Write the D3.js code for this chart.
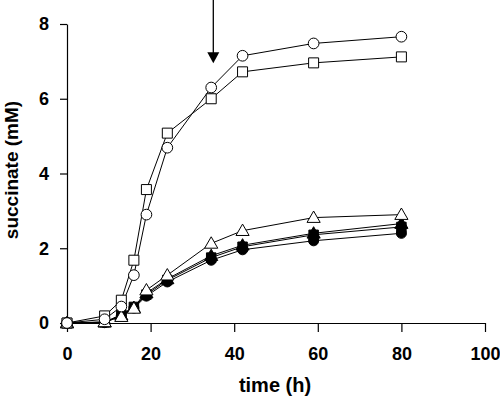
<!DOCTYPE html>
<html>
<head>
<meta charset="utf-8">
<script src="https://cdn.jsdelivr.net/npm/d3@7"></script>
<style>
  body { margin: 0; background: #fff; }
  text { font-family: Arial, "Liberation Sans", sans-serif; font-weight: bold; }
</style>
</head>
<body>
<script>
// sampling times (h)
const times = [0, 9, 13, 16, 19, 24, 34.5, 42, 59, 80];

// succinate (mM), one array per series
const openCircle   = [0, 0.10, 0.44, 1.28, 2.90, 4.69, 6.30, 7.15, 7.48, 7.66];
const openSquare   = [0, 0.19, 0.61, 1.68, 3.57, 5.08, 6.00, 6.72, 6.96, 7.12];
const openTriangle = [0, 0.03, 0.17, 0.39, 0.88, 1.28, 2.13, 2.47, 2.82, 2.90];
const filledTriangle = [0, 0.02, 0.21, 0.41, 0.80, 1.18, 1.80, 2.08, 2.40, 2.66];
const filledSquare   = [0, 0.02, 0.23, 0.43, 0.76, 1.15, 1.75, 2.04, 2.36, 2.57];
const filledCircle   = [0, 0.01, 0.20, 0.40, 0.72, 1.10, 1.68, 1.96, 2.20, 2.40];

const xTicks = [0, 20, 40, 60, 80, 100];
const yTicks = [0, 2, 4, 6, 8];

// arrow annotation (time, tip value)
const arrowTime = 35;
const arrowTip = 6.95;

const width = 500, height = 398;
const svg = d3.select("body").append("svg")
    .attr("width", width)
    .attr("height", height);

const x = d3.scaleLinear().domain([0, 100]).range([67, 485]);
const y = d3.scaleLinear().domain([0, 8]).range([323, 24]);

// axes
const xAxis = svg.append("g")
    .attr("transform", `translate(0,${y(0)})`)
    .call(d3.axisBottom(x).tickValues(xTicks).tickSize(9).tickSizeOuter(0).tickPadding(15));
const yAxis = svg.append("g")
    .attr("transform", `translate(${x(0)},0)`)
    .call(d3.axisLeft(y).tickValues(yTicks).tickSize(7).tickSizeOuter(0).tickPadding(11));

[xAxis, yAxis].forEach(a => {
    a.selectAll("path, line").attr("stroke", "#000").attr("stroke-width", 1.2);
    a.selectAll("text").attr("fill", "#000").style("font-size", "18px");
});

svg.append("text")
    .attr("x", 275)
    .attr("y", 392)
    .attr("text-anchor", "middle")
    .style("font-size", "20px")
    .text("time (h)");

svg.append("text")
    .attr("transform", "translate(18,170) rotate(-90)")
    .attr("text-anchor", "middle")
    .style("font-size", "19px")
    .text("succinate (mM)");

const series = [
    { values: filledCircle, shape: d3.symbolCircle, fill: "#000", size: 80 },
    { values: filledSquare, shape: d3.symbolSquare, fill: "#000", size: 90 },
    { values: filledTriangle, shape: d3.symbolTriangle, fill: "#000", size: 75 },
    { values: openTriangle, shape: d3.symbolTriangle, fill: "#fff", size: 75 },
    { values: openSquare, shape: d3.symbolSquare, fill: "#fff", size: 100 },
    { values: openCircle, shape: d3.symbolCircle, fill: "#fff", size: 90 }
];

const line = d3.line()
    .x(d => x(d[0]))
    .y(d => y(d[1]));

series.forEach(s => {
    const pts = times.map((t, i) => [t, s.values[i]]);
    svg.append("path")
        .datum(pts)
        .attr("fill", "none")
        .attr("stroke", "#000")
        .attr("stroke-width", 1)
        .attr("d", line);
});

series.forEach(s => {
    const pts = times.map((t, i) => [t, s.values[i]]);
    svg.append("g")
        .selectAll("path")
        .data(pts)
        .enter().append("path")
        .attr("transform", d => `translate(${x(d[0])},${y(d[1]) + (s.shape === d3.symbolTriangle ? 1 : 0)})`)
        .attr("d", d3.symbol().type(s.shape).size(s.size))
        .attr("fill", s.fill)
        .attr("stroke", "#000")
        .attr("stroke-width", 1);
});

// arrow
const ax = x(arrowTime);
const tipY = y(arrowTip);
svg.append("line")
    .attr("x1", ax).attr("x2", ax)
    .attr("y1", 0).attr("y2", tipY - 8)
    .attr("stroke", "#000")
    .attr("stroke-width", 1.3);
svg.append("path")
    .attr("d", `M${ax - 6},${tipY - 11}L${ax + 6},${tipY - 11}L${ax},${tipY}Z`)
    .attr("fill", "#000");
</script>
</body>
</html>
